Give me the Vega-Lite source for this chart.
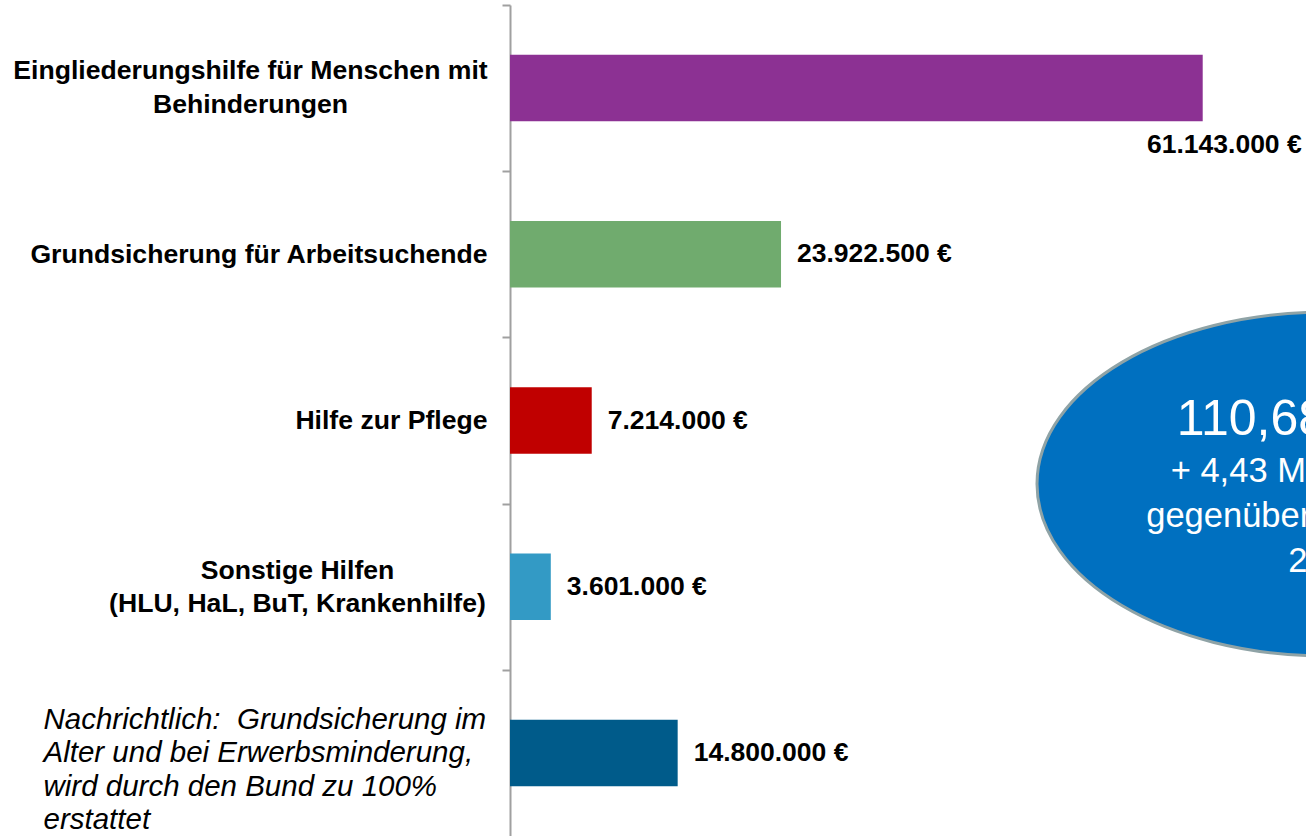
{
  "$schema": "https://vega.github.io/schema/vega-lite/v6.json",
  "width": 796,
  "height": 831,
  "autosize": {"type": "none"},
  "padding": {"left": 510, "top": 5, "right": 0, "bottom": 0},
  "background": "white",
  "config": {
    "view": {"stroke": null},
    "font": "Liberation Sans",
    "locale": {"number": {"decimal": ",", "thousands": ".", "grouping": [3], "currency": ["", " €"]}}
  },
  "data": {
    "values": [
      {"kategorie": "Eingliederungshilfe für Menschen mit|Behinderungen", "betrag": 61143000},
      {"kategorie": "Grundsicherung für Arbeitsuchende", "betrag": 23922500},
      {"kategorie": "Hilfe zur Pflege", "betrag": 7214000},
      {"kategorie": "Sonstige Hilfen|(HLU, HaL, BuT, Krankenhilfe)", "betrag": 3601000},
      {"kategorie": "Nachrichtlich:\u00a0 Grundsicherung im|Alter und bei Erwerbsminderung,|wird durch den Bund zu 100%|erstattet", "betrag": 14800000}
    ]
  },
  "layer": [
    {
      "encoding": {
        "y": {
          "field": "kategorie",
          "type": "nominal",
          "sort": null,
          "title": null,
          "scale": {"paddingInner": 0.6, "paddingOuter": 0.3},
          "axis": {
            "labelExpr": "split(datum.value, '|')",
            "domainColor": "#A0A0A0",
            "domainWidth": 2,
            "tickColor": "#A0A0A0",
            "tickWidth": 2,
            "tickSize": 8,
            "tickOffset": -83.1,
            "grid": false,
            "labelColor": "#000000",
            "labelFont": "Liberation Sans",
            "labelLimit": 1000,
            "labelOverlap": false,
            "labelBound": false,
            "labelFlush": false,
            "labelBaseline": "middle",
            "labelLineHeight": 33.5,
            "labelAlign": {
              "condition": [
                {"test": "datum.value === 'Nachrichtlich:\u00a0 Grundsicherung im|Alter und bei Erwerbsminderung,|wird durch den Bund zu 100%|erstattet'", "value": "left"},
                {"test": "datum.value === 'Eingliederungshilfe für Menschen mit|Behinderungen' || datum.value === 'Sonstige Hilfen|(HLU, HaL, BuT, Krankenhilfe)'", "value": "center"}
              ],
              "value": "right"
            },
            "labelPadding": {
              "condition": [
                {"test": "datum.value === 'Nachrichtlich:\u00a0 Grundsicherung im|Alter und bei Erwerbsminderung,|wird durch den Bund zu 100%|erstattet'", "value": 459},
                {"test": "datum.value === 'Eingliederungshilfe für Menschen mit|Behinderungen'", "value": 252},
                {"test": "datum.value === 'Sonstige Hilfen|(HLU, HaL, BuT, Krankenhilfe)'", "value": 205}
              ],
              "value": 15
            },
            "labelFontSize": {
              "condition": {"test": "datum.value === 'Nachrichtlich:\u00a0 Grundsicherung im|Alter und bei Erwerbsminderung,|wird durch den Bund zu 100%|erstattet'", "value": 29.5},
              "value": 26.6
            },
            "labelFontStyle": {
              "condition": {"test": "datum.value === 'Nachrichtlich:\u00a0 Grundsicherung im|Alter und bei Erwerbsminderung,|wird durch den Bund zu 100%|erstattet'", "value": "italic"},
              "value": "normal"
            },
            "labelFontWeight": {
              "condition": {"test": "datum.value === 'Nachrichtlich:\u00a0 Grundsicherung im|Alter und bei Erwerbsminderung,|wird durch den Bund zu 100%|erstattet'", "value": "normal"},
              "value": "bold"
            },
            "labelOffset": {
              "condition": [
                {"test": "datum.value === 'Nachrichtlich:\u00a0 Grundsicherung im|Alter und bei Erwerbsminderung,|wird durch den Bund zu 100%|erstattet'", "value": 49.5},
                {"test": "datum.value === 'Eingliederungshilfe für Menschen mit|Behinderungen'", "value": 65.5},
                {"test": "datum.value === 'Sonstige Hilfen|(HLU, HaL, BuT, Krankenhilfe)'", "value": 66.6}
              ],
              "value": 83.1
            }
          }
        },
        "x": {
          "field": "betrag",
          "type": "quantitative",
          "scale": {"domain": [0, 70260000], "nice": false},
          "axis": null
        }
      },
      "layer": [
        {
          "mark": {"type": "bar"},
          "encoding": {
            "color": {
              "field": "kategorie",
              "type": "nominal",
              "legend": null,
              "scale": {
                "domain": [
                  "Eingliederungshilfe für Menschen mit|Behinderungen",
                  "Grundsicherung für Arbeitsuchende",
                  "Hilfe zur Pflege",
                  "Sonstige Hilfen|(HLU, HaL, BuT, Krankenhilfe)",
                  "Nachrichtlich:\u00a0 Grundsicherung im|Alter und bei Erwerbsminderung,|wird durch den Bund zu 100%|erstattet"
                ],
                "range": ["#8C3193", "#70AB6E", "#C00000", "#339AC5", "#005B8A"]
              }
            }
          }
        },
        {
          "transform": [{"filter": "datum.betrag < 60000000"}],
          "mark": {"type": "text", "align": "left", "baseline": "middle", "dx": 16, "fontSize": 26.5, "fontWeight": "bold", "color": "#000000", "font": "Liberation Sans"},
          "encoding": {
            "text": {"field": "betrag", "type": "quantitative", "format": "$,.0f"}
          }
        },
        {
          "transform": [{"filter": "datum.betrag >= 60000000"}],
          "mark": {"type": "text", "align": "right", "baseline": "middle", "dx": 99, "dy": 57, "fontSize": 26.5, "fontWeight": "bold", "color": "#000000", "font": "Liberation Sans"},
          "encoding": {
            "text": {"field": "betrag", "type": "quantitative", "format": "$,.0f"}
          }
        }
      ]
    },
    {
      "data": {"values": [{}]},
      "encoding": {
        "x": {"datum": 72070000, "type": "quantitative", "scale": {"domain": [0, 70260000], "nice": false}, "axis": null}
      },
      "layer": [
        {
          "mark": {
            "type": "point",
            "shape": "M -1 0 C -1 -0.328 -0.552 -0.594 0 -0.594 C 0.552 -0.594 1 -0.328 1 0 C 1 0.328 0.552 0.594 0 0.594 C -0.552 0.594 -1 0.328 -1 0 Z",
            "size": 335241,
            "filled": true,
            "fill": "#0070C0",
            "stroke": "#8FA3A6",
            "strokeWidth": 3,
            "opacity": 1,
            "fillOpacity": 1
          },
          "encoding": {
            "y": {"datum": 2.882, "type": "quantitative", "scale": {"domain": [0, 5], "reverse": true, "nice": false, "zero": false}, "axis": null}
          }
        },
        {
          "mark": {"type": "text", "text": "110,68 Mio. €", "fontSize": 50, "color": "#FFFFFF", "align": "center", "baseline": "alphabetic", "font": "Liberation Sans"},
          "encoding": {
            "y": {"datum": 2.587, "type": "quantitative", "scale": {"domain": [0, 5], "reverse": true, "nice": false, "zero": false}, "axis": null}
          }
        },
        {
          "mark": {"type": "text", "text": ["+ 4,43 Mio. € (4,2%)", "gegenüber dem Vorjahr", "2013"], "fontSize": 34.5, "lineHeight": 45, "color": "#FFFFFF", "align": "center", "baseline": "alphabetic", "font": "Liberation Sans"},
          "encoding": {
            "y": {"datum": 2.870, "type": "quantitative", "scale": {"domain": [0, 5], "reverse": true, "nice": false, "zero": false}, "axis": null}
          }
        }
      ]
    }
  ],
  "resolve": {"scale": {"y": "independent"}}
}
